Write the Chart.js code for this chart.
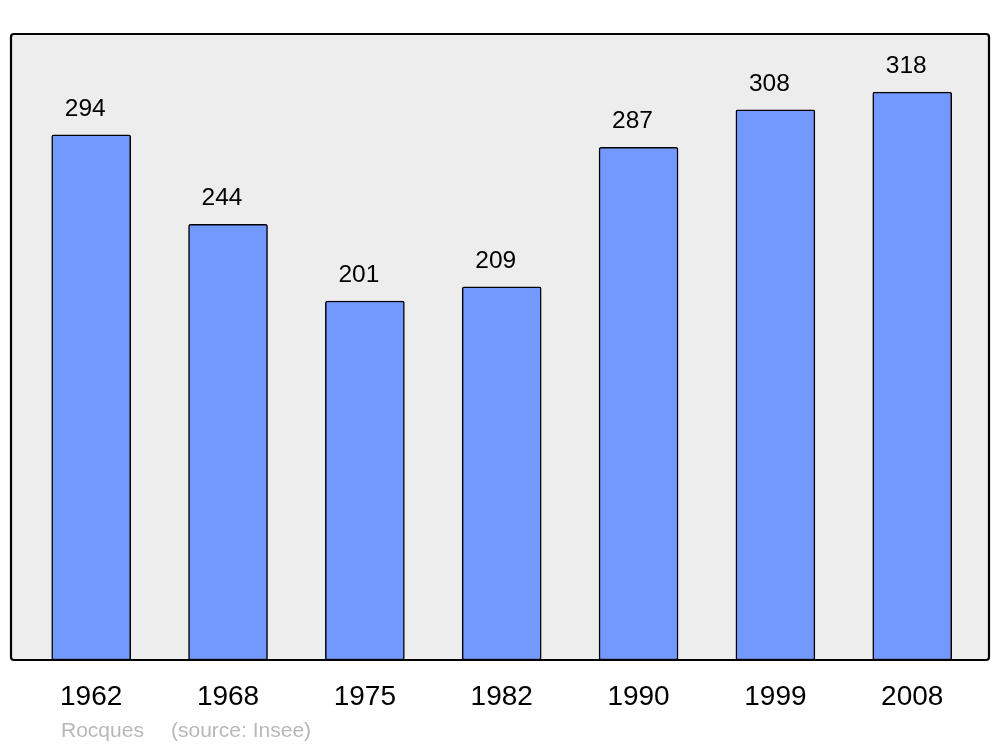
<!DOCTYPE html>
<html>
<head>
<meta charset="utf-8">
<script src="https://cdn.jsdelivr.net/npm/chart.js@4"></script>
<style>
  html, body { margin: 0; padding: 0; background: #fff; }
  #wrap { width: 1000px; height: 747px; }
</style>
</head>
<body>
<div id="wrap"><canvas id="chart" width="1000" height="747"></canvas></div>
<script>
const years = ['1962', '1968', '1975', '1982', '1990', '1999', '2008'];
const population = [294, 244, 201, 209, 287, 308, 318];
const sourceName = 'Rocques';
const sourceNote = '(source: Insee)';

const FONT = '"Liberation Sans", Arial, sans-serif';

// grey panel behind the bars
const framePlugin = {
  id: 'frame',
  beforeDatasetsDraw(chart) {
    const { ctx, chartArea: a } = chart;
    ctx.save();
    ctx.beginPath();
    ctx.roundRect(a.left, a.top, a.right - a.left, a.bottom - a.top, 3);
    ctx.fillStyle = '#ededed';
    ctx.fill();
    ctx.restore();
  },
  afterDatasetsDraw(chart) {
    const { ctx, chartArea: a } = chart;
    ctx.save();
    ctx.beginPath();
    ctx.roundRect(a.left, a.top, a.right - a.left, a.bottom - a.top, 3);
    ctx.lineWidth = 2.2;
    ctx.strokeStyle = '#000';
    ctx.stroke();

    // value labels above each bar
    ctx.fillStyle = '#000';
    ctx.font = '24.5px ' + FONT;
    ctx.textAlign = 'center';
    ctx.textBaseline = 'alphabetic';
    chart.getDatasetMeta(0).data.forEach((bar, i) => {
      ctx.fillText(String(population[i]), bar.x - 6, bar.y - 19);
    });

    // source line
    ctx.fillStyle = '#b8b8b8';
    ctx.font = '21px ' + FONT;
    ctx.textAlign = 'left';
    ctx.fillText(sourceName, 61, 737);
    ctx.fillText(sourceNote, 171, 737);
    ctx.restore();
  }
};

new Chart(document.getElementById('chart'), {
  type: 'bar',
  data: {
    datasets: [{
      data: population.map((v, i) => ({ x: i, y: v })),
      backgroundColor: '#7399ff',
      borderColor: '#000',
      borderWidth: 1.5,
      borderRadius: 2,
      borderSkipped: false,
      barThickness: 79
    }]
  },
  options: {
    responsive: false,
    animation: false,
    layout: { padding: { left: 11, right: 11, top: 34, bottom: 0 } },
    plugins: { legend: { display: false }, tooltip: { enabled: false } },
    scales: {
      x: {
        type: 'linear',
        offset: false,
        min: -0.586,
        max: 6.561,
        grid: { display: false, drawTicks: false, offset: false },
        border: { display: false },
        afterFit: scale => { scale.height = 87; },
        afterBuildTicks: scale => { scale.ticks = years.map((_, i) => ({ value: i })); },
        ticks: {
          autoSkip: false,
          maxRotation: 0,
          padding: 20,
          color: '#000',
          font: { family: FONT, size: 28 },
          callback: v => years[v]
        }
      },
      y: {
        display: false,
        min: 0,
        max: 350.5
      }
    }
  },
  plugins: [framePlugin]
});
</script>
</body>
</html>
